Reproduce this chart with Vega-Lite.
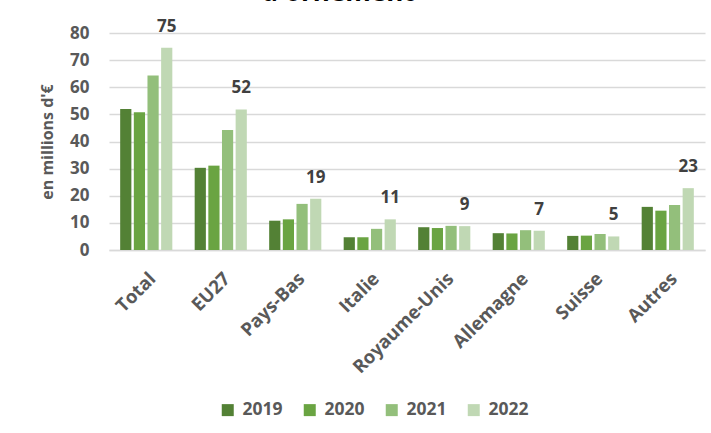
{
  "$schema": "https://vega.github.io/schema/vega-lite/v6.json",
  "autosize": {"type": "none"},
  "width": 596,
  "height": 217,
  "padding": {"left": 109, "top": 33, "right": 6, "bottom": 183},
  "background": "white",
  "title": {
    "text": "d'ornement",
    "font": "Open Sans",
    "fontSize": 26,
    "fontWeight": "bold",
    "color": "#000000",
    "anchor": "start",
    "dx": 222,
    "baseline": "alphabetic",
    "offset": -9
  },
  "data": {
    "values": [
      {"pays": "Total", "annee": "2019", "valeur": 52.0},
      {"pays": "Total", "annee": "2020", "valeur": 50.8},
      {"pays": "Total", "annee": "2021", "valeur": 64.3},
      {"pays": "Total", "annee": "2022", "valeur": 74.6},
      {"pays": "EU27", "annee": "2019", "valeur": 30.3},
      {"pays": "EU27", "annee": "2020", "valeur": 31.1},
      {"pays": "EU27", "annee": "2021", "valeur": 44.2},
      {"pays": "EU27", "annee": "2022", "valeur": 51.8},
      {"pays": "Pays-Bas", "annee": "2019", "valeur": 10.8},
      {"pays": "Pays-Bas", "annee": "2020", "valeur": 11.3},
      {"pays": "Pays-Bas", "annee": "2021", "valeur": 17.0},
      {"pays": "Pays-Bas", "annee": "2022", "valeur": 18.9},
      {"pays": "Italie", "annee": "2019", "valeur": 4.7},
      {"pays": "Italie", "annee": "2020", "valeur": 4.7},
      {"pays": "Italie", "annee": "2021", "valeur": 7.8},
      {"pays": "Italie", "annee": "2022", "valeur": 11.3},
      {"pays": "Royaume-Unis", "annee": "2019", "valeur": 8.4},
      {"pays": "Royaume-Unis", "annee": "2020", "valeur": 8.1},
      {"pays": "Royaume-Unis", "annee": "2021", "valeur": 8.9},
      {"pays": "Royaume-Unis", "annee": "2022", "valeur": 8.8},
      {"pays": "Allemagne", "annee": "2019", "valeur": 6.2},
      {"pays": "Allemagne", "annee": "2020", "valeur": 6.1},
      {"pays": "Allemagne", "annee": "2021", "valeur": 7.3},
      {"pays": "Allemagne", "annee": "2022", "valeur": 7.1},
      {"pays": "Suisse", "annee": "2019", "valeur": 5.2},
      {"pays": "Suisse", "annee": "2020", "valeur": 5.3},
      {"pays": "Suisse", "annee": "2021", "valeur": 5.9},
      {"pays": "Suisse", "annee": "2022", "valeur": 5.0},
      {"pays": "Autres", "annee": "2019", "valeur": 15.9},
      {"pays": "Autres", "annee": "2020", "valeur": 14.5},
      {"pays": "Autres", "annee": "2021", "valeur": 16.6},
      {"pays": "Autres", "annee": "2022", "valeur": 22.8}
    ]
  },
  "encoding": {
    "x": {
      "field": "pays",
      "type": "nominal",
      "sort": ["Total", "EU27", "Pays-Bas", "Italie", "Royaume-Unis", "Allemagne", "Suisse", "Autres"],
      "scale": {"paddingInner": 0.3, "paddingOuter": 0.15},
      "axis": {
        "title": null,
        "labelAngle": -45,
        "labelFont": "Open Sans",
        "labelFontSize": 18.5,
        "labelFontWeight": "bold",
        "labelColor": "#595959",
        "labelPadding": 19,
        "domainColor": "#d9d9d9",
        "domainWidth": 1.3,
        "ticks": false
      }
    },
    "xOffset": {
      "field": "annee",
      "type": "nominal",
      "scale": {"paddingInner": 0.18, "paddingOuter": 0}
    },
    "y": {
      "field": "valeur",
      "type": "quantitative",
      "scale": {"domain": [0, 80]},
      "axis": {
        "title": "en millions d'€",
        "titleFont": "Open Sans",
        "titleFontSize": 16,
        "titleFontWeight": "bold",
        "titleColor": "#595959",
        "titlePadding": 14,
        "values": [0, 10, 20, 30, 40, 50, 60, 70, 80],
        "labelFont": "Open Sans",
        "labelFontSize": 17,
        "labelFontWeight": "bold",
        "labelColor": "#595959",
        "labelPadding": 20,
        "domain": false,
        "ticks": false,
        "gridColor": "#d9d9d9",
        "gridWidth": 1.3
      }
    }
  },
  "layer": [
    {
      "mark": {"type": "bar"},
      "encoding": {
        "color": {
          "field": "annee",
          "type": "nominal",
          "scale": {
            "domain": ["2019", "2020", "2021", "2022"],
            "range": ["#538135", "#6aa442", "#93bf7b", "#c0d8b4"]
          },
          "legend": {
            "title": null,
            "orient": "none",
            "direction": "horizontal",
            "legendX": 110,
            "legendY": 368,
            "symbolType": "square",
            "symbolSize": 144,
            "symbolStrokeWidth": 0,
            "labelFont": "Open Sans",
            "labelFontSize": 17.5,
            "labelFontWeight": "bold",
            "labelColor": "#595959",
            "labelOffset": 6,
            "columnPadding": 18
          }
        }
      }
    },
    {
      "transform": [{"filter": "datum.annee === '2022'"}],
      "mark": {
        "type": "text",
        "baseline": "bottom",
        "dy": -12,
        "font": "Open Sans",
        "fontSize": 17,
        "fontWeight": "bold",
        "color": "#404040"
      },
      "encoding": {
        "text": {"field": "valeur", "type": "quantitative", "format": ".0f"}
      }
    }
  ],
  "config": {"view": {"stroke": null}}
}
